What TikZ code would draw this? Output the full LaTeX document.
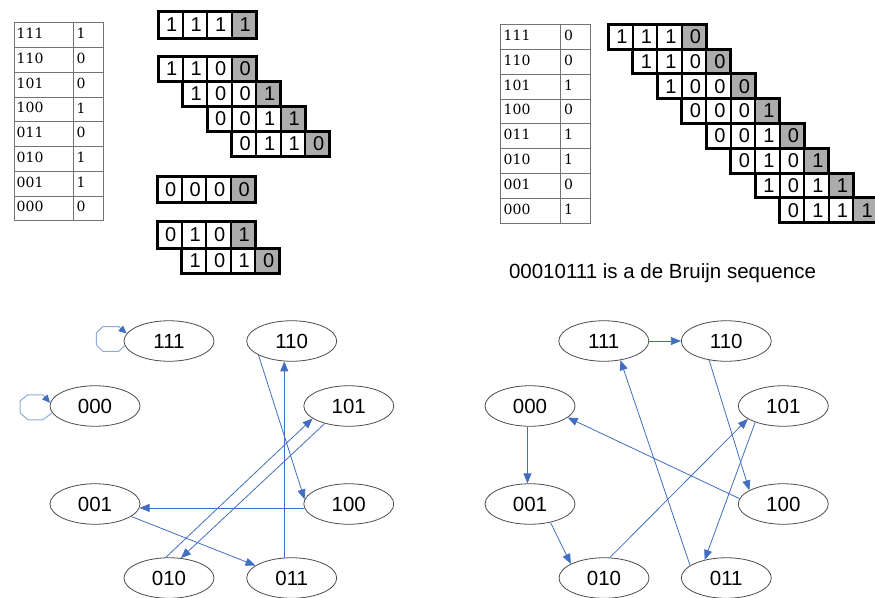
\documentclass[tikz,border=0pt]{standalone}
\usepackage{fontspec}
\setmainfont{Liberation Sans}
\newfontfamily\tabfont{DejaVu Serif}
\usetikzlibrary{shapes.geometric,arrows.meta}

\definecolor{edgeblue}{RGB}{64,110,192}
\definecolor{loopblue}{RGB}{143,170,220}
\definecolor{cellgray}{RGB}{172,172,172}

% cell width of the bit windows
\def\cw{24.5}

% one window of four bits: name, x, y, height, digits (last cell shaded)
\newcommand\bitrow[5]{%
  \fill[cellgray] ({#2+3*\cw},#3) rectangle ({#2+4*\cw},{#3+#4});
  \foreach \i in {1,2,3}
    \draw[cellsep] ({#2+\i*\cw},#3) -- ({#2+\i*\cw},{#3+#4});
  \draw[cellframe] (#2,#3) rectangle ({#2+4*\cw},{#3+#4});
  \foreach \d [count=\i from 0] in {#5}
    \node[digit] (#1-\i) at ({#2+(\i+0.5)*\cw+1.5},{#3+#4/2}) {\d};
}

\tikzset{
  cellsep/.style={draw=black, line width=2pt},
  cellframe/.style={draw=black, line width=3pt, line join=miter},
  digit/.style={inner sep=0pt, font=\fontsize{20}{20}\selectfont},
  tabline/.style={draw=black!55, line width=0.8pt},
  tabtext/.style={anchor=west, inner sep=0pt, font=\tabfont\fontsize{14}{14}\selectfont},
  state/.style={ellipse, draw=black!70, line width=0.8pt, minimum width=90pt,
    minimum height=40.5pt, inner sep=0pt, font=\fontsize{20.5}{20.5}\selectfont},
  link/.style={draw=edgeblue, line width=0.8pt, -{Triangle[length=10pt,width=8pt]}},
  selfloop/.style={draw=loopblue, line width=1pt, line join=round,
    -{Triangle[length=8pt,width=7pt,color=edgeblue]}},
}

\begin{document}
\begin{tikzpicture}[x=1pt,y=-1pt]
\useasboundingbox (0,0) rectangle (875,597);

% ---------- left truth table ----------
\draw[tabline] (14,22.7) rectangle (103.3,220.7);
\foreach \k in {1,...,7}
  \draw[tabline] (14,{22.7+\k*24.75}) -- (103.3,{22.7+\k*24.75});
\draw[tabline] (73.3,22.7) -- (73.3,220.7);
\foreach \a/\b [count=\k from 0] in {111/1,110/0,101/0,100/1,011/0,010/1,001/1,000/0} {
  \node[tabtext] (lta\k) at (16.5,{22.7+(\k+0.5)*24.75-1.5}) {\a};
  \node[tabtext] (ltb\k) at (76.5,{22.7+(\k+0.5)*24.75-1.5}) {\b};
}

% ---------- left bit windows ----------
\bitrow{a0}{158}{11}{27}{1,1,1,1}
\bitrow{b0}{158}{56}{25}{1,1,0,0}
\bitrow{b1}{182.5}{81}{25}{1,0,0,1}
\bitrow{b2}{207}{106}{25}{0,0,1,1}
\bitrow{b3}{231.5}{131}{25}{0,1,1,0}
\bitrow{c0}{157}{176}{26.5}{0,0,0,0}
\bitrow{d0}{157}{221}{27}{0,1,0,1}
\bitrow{d1}{181.5}{248}{25}{1,0,1,0}

% ---------- right truth table ----------
\draw[tabline] (500.7,24.3) rectangle (590.7,223.3);
\foreach \k in {1,...,7}
  \draw[tabline] (500.7,{24.3+\k*24.875}) -- (590.7,{24.3+\k*24.875});
\draw[tabline] (560.7,24.3) -- (560.7,223.3);
\foreach \a/\b [count=\k from 0] in {111/0,110/0,101/1,100/0,011/1,010/1,001/0,000/1} {
  \node[tabtext] (rta\k) at (503.5,{24.3+(\k+0.5)*24.875-1.5}) {\a};
  \node[tabtext] (rtb\k) at (564,{24.3+(\k+0.5)*24.875-1.5}) {\b};
}

% ---------- right bit windows (the cycle) ----------
\bitrow{r0}{608.3}{24.3}{24.8}{1,1,1,0}
\bitrow{r1}{632.8}{49.1}{24.8}{1,1,0,0}
\bitrow{r2}{657.3}{73.9}{24.8}{1,0,0,0}
\bitrow{r3}{681.8}{98.7}{24.8}{0,0,0,1}
\bitrow{r4}{706.3}{123.5}{24.8}{0,0,1,0}
\bitrow{r5}{730.8}{148.3}{24.8}{0,1,0,1}
\bitrow{r6}{755.3}{173.1}{24.8}{1,0,1,1}
\bitrow{r7}{779.8}{197.9}{24.8}{0,1,1,1}

\node[anchor=base, font=\fontsize{20.5}{20.5}\selectfont] (caption) at (662.5,278)
  {00010111 is a de Bruijn sequence};

% ---------- left state graph ----------
\node[state] (L111) at (169,341) {111};
\node[state] (L110) at (291.7,341) {110};
\node[state] (L000) at (95,406) {000};
\node[state] (L101) at (348.8,406) {101};
\node[state] (L001) at (95,504) {001};
\node[state] (L100) at (348.8,504) {100};
\node[state] (L010) at (169,578) {010};
\node[state] (L011) at (291.7,578) {011};

\draw[selfloop] (L111.186) -- ++(-6,5.6) -- ++(-16,0) -- ++(-6.3,-6.3)
  -- ++(0,-12) -- ++(6.3,-6.3) -- ++(16,0) -- (L111.170);
\draw[selfloop] (L000.189) -- ++(-9.3,7) -- ++(-15,0) -- ++(-7.6,-6.7)
  -- ++(0,-12.3) -- ++(7.6,-6) -- ++(15,0) -- (L000.176);

\draw[link] (L110.203) -- (L100.174);
\draw[link] (L011.110) -- (L110.250);
\draw[link] (L010.99) -- (L101.199);
\draw[link] (L101.216) -- (L010.59);
\draw[link] (L100.185) -- (L001.355);
\draw[link] (L001.341) -- (L011.161);

% ---------- right state graph ----------
\node[state] (R111) at (603.8,341) {111};
\node[state] (R110) at (726.3,341) {110};
\node[state] (R000) at (530,406) {000};
\node[state] (R101) at (783.3,406) {101};
\node[state] (R001) at (530,504) {001};
\node[state] (R100) at (783.3,504) {100};
\node[state] (R010) at (604,578) {010};
\node[state] (R011) at (726.3,578) {011};

\draw[link] (R111.0) -- (R110.180);
\draw[link] (R110.228) -- (R100.158);
\draw[link] (R000.263) -- (R001.97);
\draw[link] (R001.318) -- (R010.157);
\draw[link] (R010.74) -- (R101.200);
\draw[link] (R101.210) -- (R011.140);
\draw[link] (R100.173) -- (R000.343);
\draw[link] (R011.161) -- (R111.311);
\end{tikzpicture}
\end{document}
